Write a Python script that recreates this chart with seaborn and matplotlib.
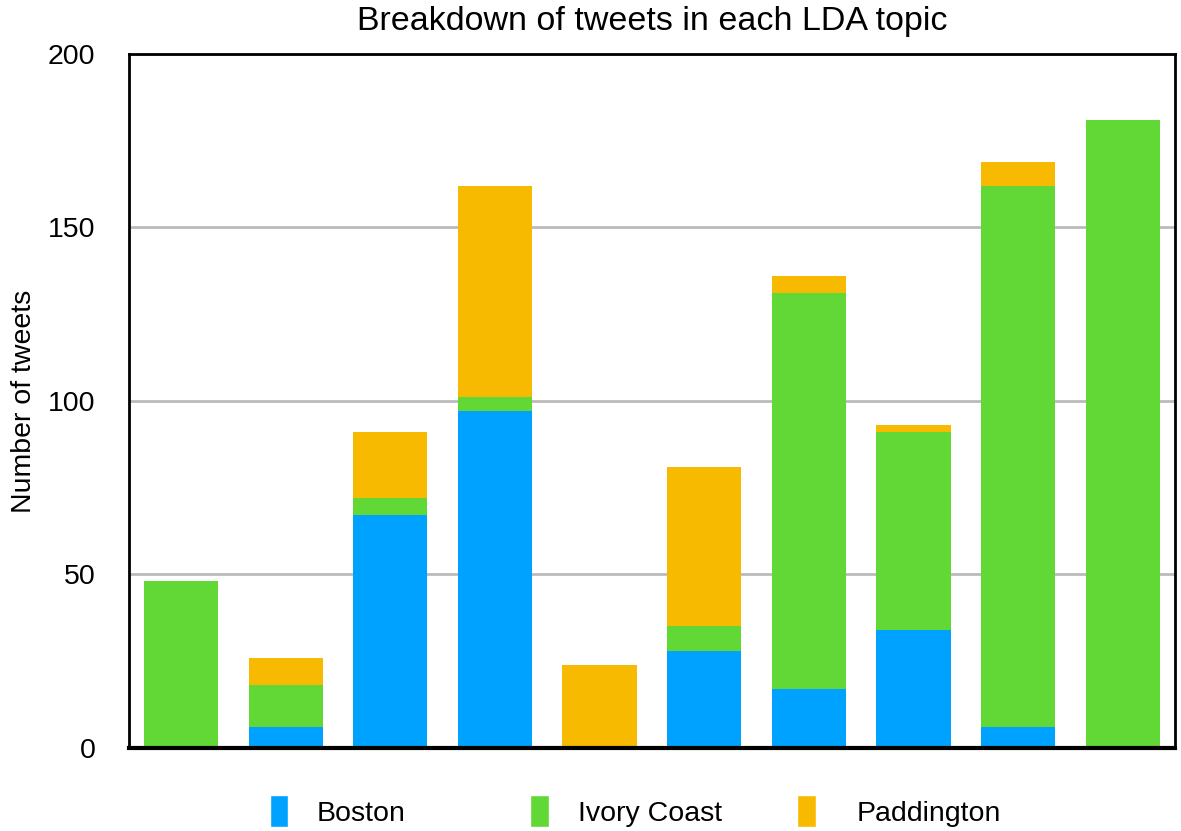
import numpy as np
import pandas as pd
import seaborn as sns
import matplotlib.pyplot as plt
from matplotlib.patches import Patch

topics = [f"Topic {i}" for i in range(1, 11)]
boston = [0, 6, 67, 97, 0, 28, 17, 34, 6, 0]
ivory_coast = [48, 12, 5, 4, 0, 7, 114, 57, 156, 181]
paddington = [0, 8, 19, 61, 24, 46, 5, 2, 7, 0]

series = ["Boston", "Ivory Coast", "Paddington"]
colors = ["#00A2FF", "#61D836", "#F8BA00"]

df = pd.DataFrame({"topic": topics, "Boston": boston,
                   "Ivory Coast": ivory_coast, "Paddington": paddington})
df["c1"] = df["Boston"]
df["c2"] = df["c1"] + df["Ivory Coast"]
df["c3"] = df["c2"] + df["Paddington"]

sns.set_style("white")
plt.rcParams['font.family'] = ['Liberation Sans', 'DejaVu Sans']
plt.rcParams['text.color'] = 'black'
plt.rcParams['axes.labelcolor'] = 'black'
plt.rcParams['ytick.color'] = 'black'

fig = plt.figure(figsize=(11.81, 8.31), dpi=100)
ax = fig.add_axes([0.109, 0.1, 0.886, 0.835])

# stacked bars drawn from the tallest cumulative layer down
for col, c in zip(["c3", "c2", "c1"], colors[::-1]):
    sns.barplot(data=df, x="topic", y=col, color=c, width=0.71,
                saturation=1, linewidth=0, ax=ax, zorder=3)

ax.set_ylim(0, 200)
ax.set_xlim(-0.5, 9.5)
ax.set_yticks([0, 50, 100, 150, 200])
ax.tick_params(axis="y", labelsize=20.5, length=0, pad=24)
ax.set_xticks([])
ax.set_xlabel("")
ax.set_ylabel("Number of tweets", fontsize=20.5, labelpad=8)
ax.set_title("Breakdown of tweets in each LDA topic", fontsize=24.5, pad=17)
ax.yaxis.grid(True, color="#BBBBBB", linewidth=2, zorder=0)
ax.set_axisbelow(True)
for s in ["left", "top", "right"]:
    ax.spines[s].set_color("black")
    ax.spines[s].set_linewidth(2)
    ax.spines[s].set_visible(True)
ax.spines["bottom"].set_color("black")
ax.spines["bottom"].set_linewidth(3)
ax.spines["bottom"].set_zorder(5)

# one small legend per series, placed like the reference
for s, c, x, pad in zip(series, colors, [0.2286, 0.4488, 0.6749], [1.0, 1.05, 1.45]):
    fig.legend(handles=[Patch(facecolor=c, label=s)], loc="center left",
               bbox_to_anchor=(x, 0.024), frameon=False, fontsize=20.5,
               handlelength=0.65, handleheight=1.35, handletextpad=pad,
               borderpad=0, borderaxespad=0)

fig.savefig("out.png", dpi=100)
